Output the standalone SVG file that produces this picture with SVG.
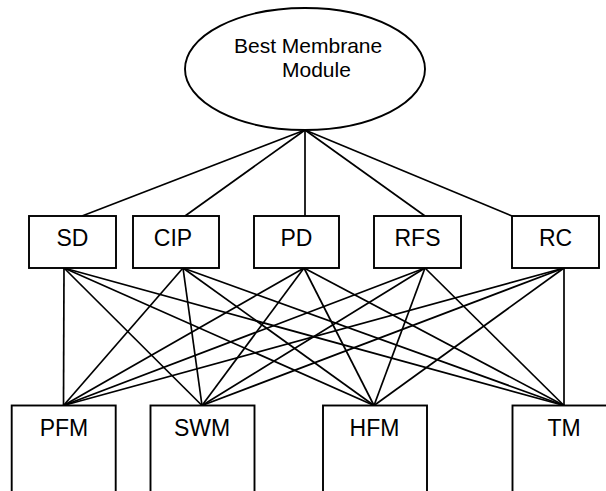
<svg xmlns="http://www.w3.org/2000/svg" width="606" height="491" viewBox="0 0 606 491">
  <style>
    .shape { fill: #ffffff; stroke: #000000; stroke-width: 1.9; }
    .edge { stroke: #000000; stroke-width: 1.7; fill: none; }
    .label { font-family: "Liberation Sans", Arial, sans-serif; font-size: 23px; fill: #000000; text-anchor: middle; }
    .goal { font-family: "Liberation Sans", Arial, sans-serif; font-size: 21px; fill: #000000; }
  </style>
  <rect width="606" height="491" fill="#ffffff"/>

  <!-- connectors -->
  <g id="connectors" class="edge">
    <!-- goal to criteria -->
    <line x1="305" y1="130" x2="82" y2="216"/>
    <line x1="305" y1="130" x2="185" y2="216"/>
    <line x1="305" y1="130" x2="305" y2="216"/>
    <line x1="305" y1="130" x2="425" y2="216"/>
    <line x1="305" y1="130" x2="512" y2="216"/>
    <!-- criteria to alternatives -->
    <line x1="64" y1="268" x2="63.5" y2="405.5"/>
    <line x1="64" y1="268" x2="202" y2="405.5"/>
    <line x1="64" y1="268" x2="374" y2="405.5"/>
    <line x1="64" y1="268" x2="564" y2="405.5"/>
    <line x1="183" y1="268" x2="63.5" y2="405.5"/>
    <line x1="183" y1="268" x2="202" y2="405.5"/>
    <line x1="183" y1="268" x2="374" y2="405.5"/>
    <line x1="183" y1="268" x2="564" y2="405.5"/>
    <line x1="304" y1="268" x2="63.5" y2="405.5"/>
    <line x1="304" y1="268" x2="202" y2="405.5"/>
    <line x1="304" y1="268" x2="374" y2="405.5"/>
    <line x1="304" y1="268" x2="564" y2="405.5"/>
    <line x1="425" y1="268" x2="63.5" y2="405.5"/>
    <line x1="425" y1="268" x2="202" y2="405.5"/>
    <line x1="425" y1="268" x2="374" y2="405.5"/>
    <line x1="425" y1="268" x2="564" y2="405.5"/>
    <line x1="564" y1="268" x2="63.5" y2="405.5"/>
    <line x1="564" y1="268" x2="202" y2="405.5"/>
    <line x1="564" y1="268" x2="374" y2="405.5"/>
    <line x1="564" y1="268" x2="564" y2="405.5"/>
  </g>

  <!-- goal -->
  <g id="goal">
    <ellipse class="shape" cx="305" cy="69" rx="120" ry="61"/>
    <text class="goal" x="234" y="53">Best Membrane</text>
    <text class="goal" x="282" y="77">Module</text>
  </g>

  <!-- criteria -->
  <g id="sd">
    <rect class="shape" x="29" y="216" width="87" height="52"/>
    <text class="label" x="72.5" y="246">SD</text>
  </g>
  <g id="cip">
    <rect class="shape" x="133" y="216" width="86" height="52"/>
    <text class="label" x="173" y="246">CIP</text>
  </g>
  <g id="pd">
    <rect class="shape" x="254" y="216" width="85" height="52"/>
    <text class="label" x="296.5" y="246">PD</text>
  </g>
  <g id="rfs">
    <rect class="shape" x="374" y="216" width="87" height="52"/>
    <text class="label" x="417.5" y="246">RFS</text>
  </g>
  <g id="rc">
    <rect class="shape" x="512" y="216" width="87" height="52"/>
    <text class="label" x="555.5" y="246">RC</text>
  </g>

  <!-- alternatives -->
  <g id="pfm">
    <rect class="shape" x="11.7" y="405.5" width="104" height="100"/>
    <text class="label" x="64" y="436">PFM</text>
  </g>
  <g id="swm">
    <rect class="shape" x="150.5" y="405.5" width="104" height="100"/>
    <text class="label" x="202" y="436">SWM</text>
  </g>
  <g id="hfm">
    <rect class="shape" x="323" y="405.5" width="104" height="100"/>
    <text class="label" x="374.5" y="436">HFM</text>
  </g>
  <g id="tm">
    <rect class="shape" x="512.5" y="405.5" width="104" height="100"/>
    <text class="label" x="564" y="436">TM</text>
  </g>
</svg>
